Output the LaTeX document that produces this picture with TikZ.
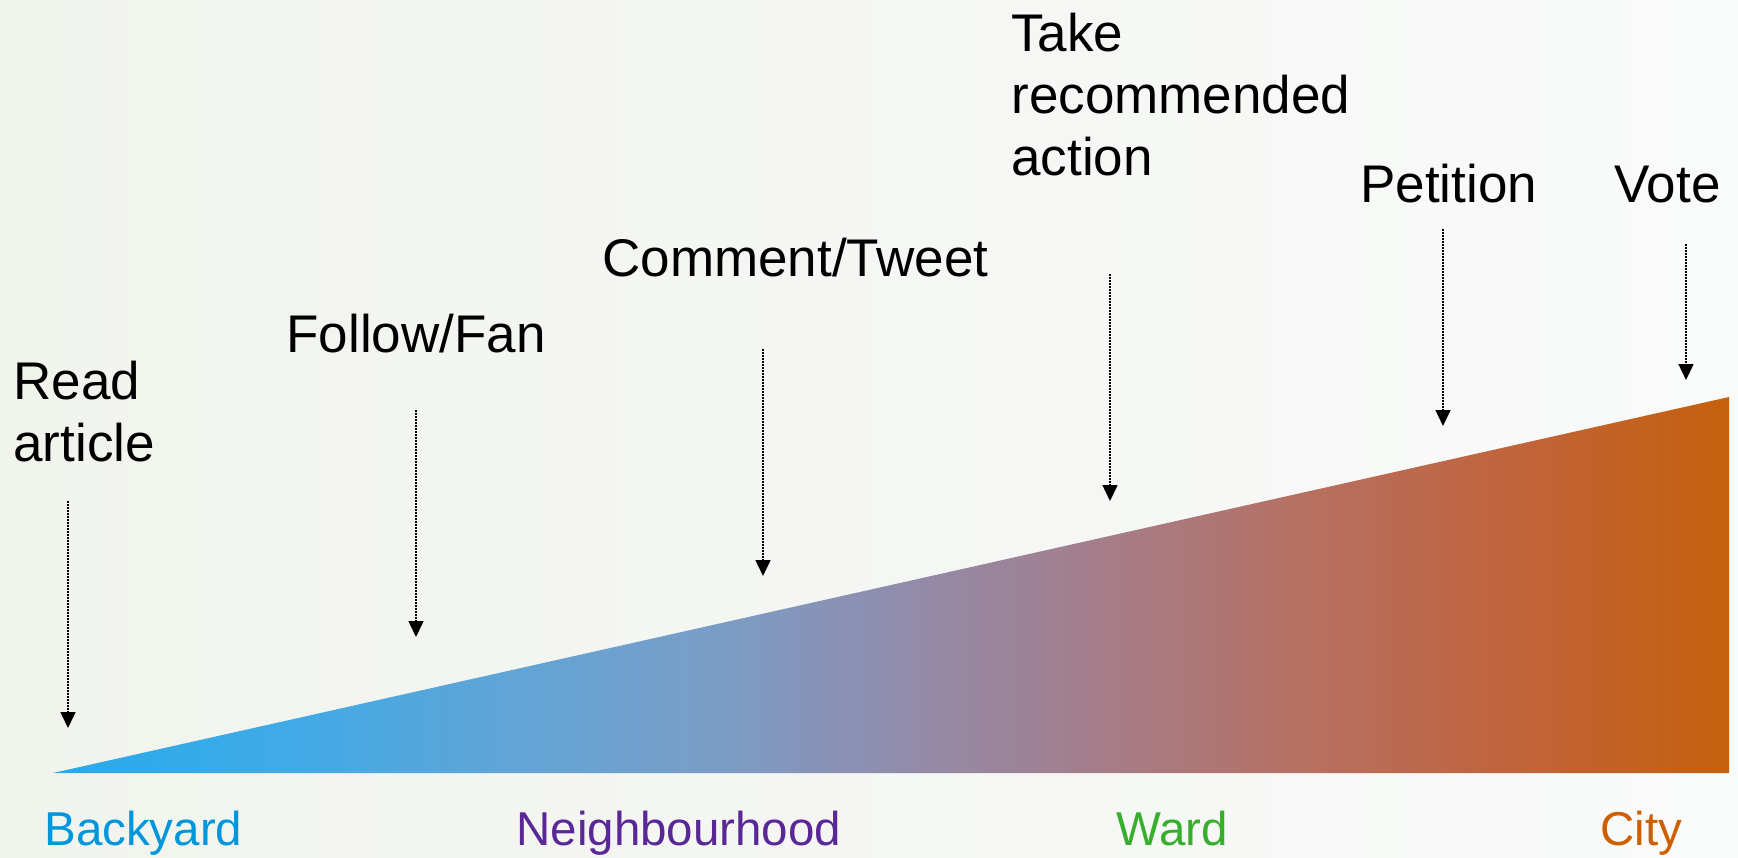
\documentclass[tikz,border=0pt]{standalone}
\usepackage{fontspec}
\setmainfont{Liberation Sans}
\usetikzlibrary{arrows.meta}
\definecolor{bgL}{RGB}{241,243,237}
\definecolor{bgR}{RGB}{249,250,250}
\definecolor{wa}{RGB}{40,170,235}
\definecolor{wb}{RGB}{65,170,230}
\definecolor{wc}{RGB}{95,165,215}
\definecolor{wd}{RGB}{120,158,200}
\definecolor{we}{RGB}{145,140,172}
\definecolor{wf}{RGB}{165,125,138}
\definecolor{wg}{RGB}{182,112,98}
\definecolor{wh}{RGB}{192,100,62}
\definecolor{wi}{RGB}{197,96,12}
\pgfdeclarehorizontalshading{wedgeshade}{100bp}{color(0bp)=(wa); color(25bp)=(wa);
  color(32.4bp)=(wb); color(38.3bp)=(wc); color(44.3bp)=(wd); color(50.3bp)=(we);
  color(56.2bp)=(wf); color(62.2bp)=(wg); color(68.2bp)=(wh); color(75bp)=(wi);
  color(100bp)=(wi)}
\definecolor{cBack}{RGB}{0,150,220}
\definecolor{cNeigh}{RGB}{90,40,150}
\definecolor{cWard}{RGB}{55,175,45}
\definecolor{cCity}{RGB}{205,95,0}
\tikzset{
  toplabel/.style={inner sep=0pt, font=\fontsize{26.5}{31}\selectfont, text=black},
  botlabel/.style={inner sep=0pt, anchor=base west, font=\fontsize{23.75}{28}\selectfont},
  droparrow/.style={line width=0.75pt, dash pattern=on 0.75pt off 0.75pt,
    -{Triangle[length=8pt,width=7.5pt]}}
}
\begin{document}
\begin{tikzpicture}[x=0.5pt,y=-0.5pt]
\useasboundingbox (0,0) rectangle (1738,857);
\shade[left color=bgL, right color=bgR] (0,0) rectangle (1738,857);
% wedge
\shade[shading=wedgeshade]
  (53,773) -- (1729,397) -- (1729,773) -- cycle;
% top labels
\node[toplabel, anchor=north west, align=left] (read) at (13,361) {Read\\article};
\node[toplabel, anchor=base west] (follow) at (286,352) {Follow/Fan};
\node[toplabel, anchor=base west] (comment) at (602,276) {Comment/Tweet};
\node[toplabel, anchor=north west, align=left] (take) at (1011,13) {Take\\recommended\\action};
\node[toplabel, anchor=base west] (petition) at (1360,202) {Petition};
\node[toplabel, anchor=base west] (vote) at (1614,202) {Vote};
% arrow coordinates
\coordinate (rs) at (68,501);   \coordinate (re) at (68,728);
\coordinate (fs) at (416,410);  \coordinate (fe) at (416,637);
\coordinate (cs) at (763,349);  \coordinate (ce) at (763,576);
\coordinate (ts) at (1110,274); \coordinate (te) at (1110,501);
\coordinate (ps) at (1443,229); \coordinate (pe) at (1443,426);
\coordinate (vs) at (1686,244); \coordinate (ve) at (1686,380);
\draw[droparrow] (rs) -- (re);
\draw[droparrow] (fs) -- (fe);
\draw[droparrow] (cs) -- (ce);
\draw[droparrow] (ts) -- (te);
\draw[droparrow] (ps) -- (pe);
\draw[droparrow] (vs) -- (ve);
% bottom labels
\node[botlabel, text=cBack] (backyard) at (44,845) {Backyard};
\node[botlabel, text=cNeigh] (neigh) at (516,845) {Neighbourhood};
\node[botlabel, text=cWard] (ward) at (1116,845) {Ward};
\node[botlabel, text=cCity] (city) at (1600,845) {City};
\end{tikzpicture}
\end{document}
